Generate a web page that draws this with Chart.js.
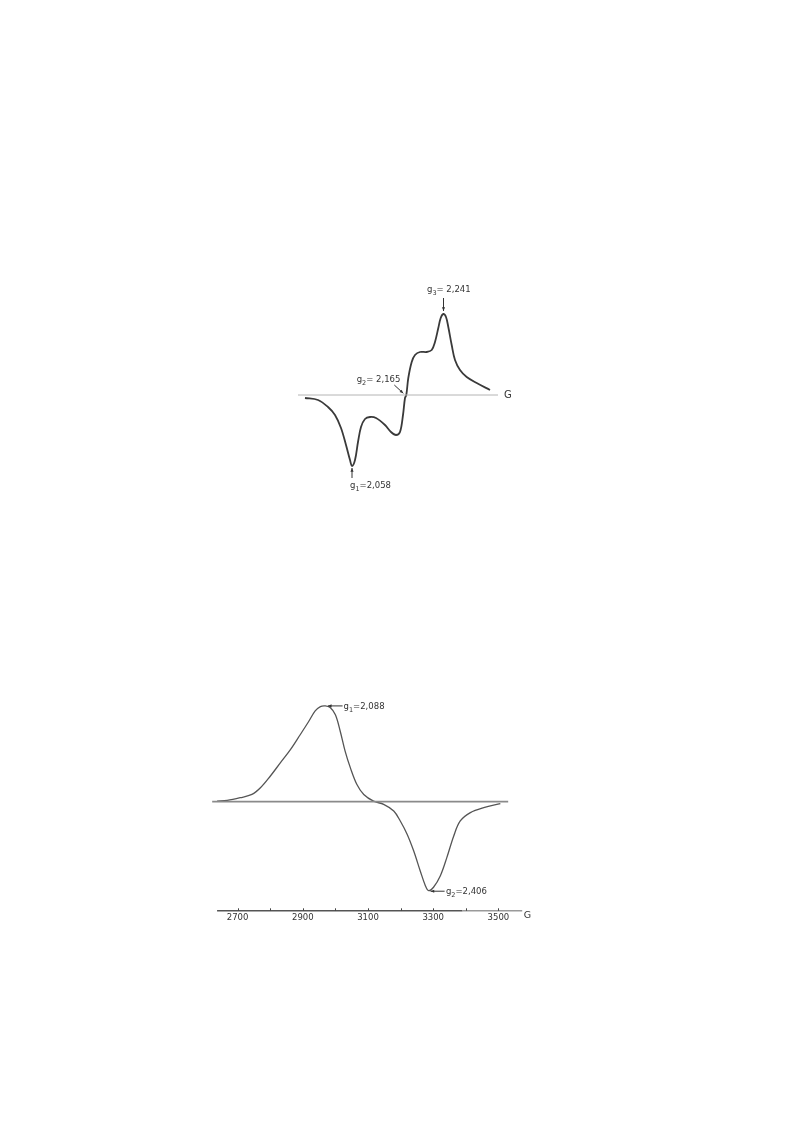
<!DOCTYPE html>
<html>
<head>
<meta charset="utf-8">
<script src="https://cdn.jsdelivr.net/npm/chart.js@4/dist/chart.umd.min.js"></script>
<style>
  html, body { margin:0; padding:0; background:#fff; }
  body { width:793px; height:1123px; position:relative; overflow:hidden; }
  canvas { position:absolute; }
  #c1 { left:290px; top:280px; }
  #c2 { left:195px; top:690px; }
</style>
</head>
<body>
<canvas id="c1" width="235" height="215"></canvas>
<canvas id="c2" width="350" height="240"></canvas>
<script>
// ---------- Spectrum 1 (field in arbitrary units, signal in arbitrary units) ----------
const topField  = [7, 20, 30, 37, 43, 48, 52, 54, 57, 60, 63, 67, 72, 78, 87, 93, 98, 102, 105, 107,
                   108.3, 110.3, 113.7, 117, 122, 128.7, 133.7, 137, 140.3, 142.7, 145.3, 148, 150.3, 153.7, 157, 162, 168.7, 178.7, 192];
const topSignal = [-3, -5, -12, -20, -33, -50, -65, -71, -65, -47, -32, -24, -22, -23, -30, -37, -40, -37, -20, -3,
                   0, 17, 33, 40, 43, 43, 45, 53, 67, 77, 81, 78, 68, 50, 35, 25, 18, 12, 5];
const topBaseline = [0, 200];
const topLabels = { g1: "2,058", g2: "2,165", g3: "2,241" };

// ---------- Spectrum 2 (field in G) ----------
const botField  = [2637, 2668, 2708, 2744, 2770, 2800, 2831, 2862, 2892, 2918, 2938, 2954, 2969, 2984, 3000, 3015, 3030, 3046, 3066, 3087,
                   3117, 3148, 3179, 3199, 3220, 3240, 3260, 3276, 3286, 3301, 3322, 3342, 3363, 3383, 3414, 3455, 3506];
const botSignal = [0.6, 1.3, 4, 7.3, 14, 25.6, 39, 52.3, 67.3, 80.6, 91.3, 95.6, 96.3, 94.6, 87.3, 70.6, 50.6, 34, 17.3, 7.3,
                   0.6, -2.7, -9.4, -19.4, -32.7, -49.4, -69.4, -84.4, -89.4, -86, -74.4, -56, -34.4, -19.4, -11, -6, -2];
const botBaseline = [2622, 3530];
const botTickLabels = [2700, 2900, 3100, 3300, 3500];
const botLabels = { g1: "2,088", g2: "2,406" };

const FONT = '"DejaVu Sans", Verdana, sans-serif';

function pts(xs, ys) { return xs.map((x, i) => ({ x: x, y: ys[i] })); }

function gLabel(ctx, x, yBase, sub, rest) {
  ctx.save();
  ctx.fillStyle = '#333';
  ctx.textBaseline = 'alphabetic';
  ctx.textAlign = 'left';
  ctx.font = '8.5px ' + FONT;
  ctx.fillText('g', x, yBase);
  let w = ctx.measureText('g').width;
  ctx.font = '6.5px ' + FONT;
  ctx.fillText(sub, x + w, yBase + 3);
  w += ctx.measureText(sub).width;
  ctx.font = '8.5px ' + FONT;
  ctx.fillText(rest, x + w, yBase);
  ctx.restore();
}

function arrow(ctx, x1, y1, x2, y2, head) {
  ctx.save();
  ctx.strokeStyle = '#333';
  ctx.fillStyle = '#333';
  ctx.lineWidth = 1;
  ctx.beginPath(); ctx.moveTo(x1, y1); ctx.lineTo(x2, y2); ctx.stroke();
  const a = Math.atan2(y2 - y1, x2 - x1), h = head || 4;
  ctx.beginPath();
  ctx.moveTo(x2, y2);
  ctx.lineTo(x2 - h * Math.cos(a - 0.4), y2 - h * Math.sin(a - 0.4));
  ctx.lineTo(x2 - h * Math.cos(a + 0.4), y2 - h * Math.sin(a + 0.4));
  ctx.closePath(); ctx.fill();
  ctx.restore();
}

const topNotes = {
  id: 'topNotes',
  afterDatasetsDraw(chart) {
    const { ctx, scales: { x, y } } = chart;
    const X = v => x.getPixelForValue(v), Y = v => y.getPixelForValue(v);
    ctx.save();
    ctx.font = '10px ' + FONT; ctx.fillStyle = '#333';
    ctx.textAlign = 'left'; ctx.textBaseline = 'middle';
    ctx.fillText('G', X(206), Y(0));
    ctx.restore();
    gLabel(ctx, X(129), Y(103), '3', '= ' + topLabels.g3);
    arrow(ctx, X(145.5), Y(97), X(145.5), Y(84), 4);
    gLabel(ctx, X(58.7), Y(13.5), '2', '= ' + topLabels.g2);
    arrow(ctx, X(96.3), Y(10), X(105.3), Y(1.7), 4);
    gLabel(ctx, X(52), Y(-93), '1', '=' + topLabels.g1);
    arrow(ctx, X(54), Y(-83), X(54), Y(-73), 4);
  }
};

const botNotes = {
  id: 'botNotes',
  afterDatasetsDraw(chart) {
    const { ctx, scales: { x, y } } = chart;
    const X = v => x.getPixelForValue(v), Y = v => y.getPixelForValue(v);
    const yAxis = chart.chartArea.bottom;
    ctx.save();
    ctx.lineWidth = 1.6;
    ctx.strokeStyle = '#555';
    ctx.beginPath(); ctx.moveTo(X(2637), yAxis); ctx.lineTo(X(3390), yAxis); ctx.stroke();
    ctx.strokeStyle = '#9a9a9a';
    ctx.beginPath(); ctx.moveTo(X(3390), yAxis); ctx.lineTo(X(3573), yAxis); ctx.stroke();
    ctx.strokeStyle = '#444'; ctx.lineWidth = 1;
    for (const t of x.ticks) {
      if (t.value < 2700 || t.value > 3500) continue;
      const px = Math.round(X(t.value)) + 0.5;
      ctx.beginPath(); ctx.moveTo(px, yAxis - 2.5); ctx.lineTo(px, yAxis); ctx.stroke();
    }
    ctx.font = '9.5px ' + FONT; ctx.fillStyle = '#333';
    ctx.textAlign = 'left'; ctx.textBaseline = 'middle';
    ctx.fillText('G', X(3578), yAxis + 4.5);
    ctx.restore();
    arrow(ctx, X(3022), Y(96.3), X(2977), Y(96.3), 4);
    gLabel(ctx, X(3025), Y(93.3), '1', '=' + botLabels.g1);
    arrow(ctx, X(3335), Y(-90), X(3292), Y(-90), 4);
    gLabel(ctx, X(3339), Y(-93), '2', '=' + botLabels.g2);
  }
};

new Chart(document.getElementById('c1'), {
  type: 'line',
  data: {
    datasets: [
      { data: pts(topBaseline, [0, 0]), borderColor: '#b4b4b4', borderWidth: 1, pointRadius: 0, tension: 0 },
      { data: pts(topField, topSignal), borderColor: '#3a3a3a', borderWidth: 1.8, pointRadius: 0, tension: 0.35 }
    ]
  },
  options: {
    responsive: false, animation: false, devicePixelRatio: 1,
    layout: { padding: { left: 8, right: 27, top: 0, bottom: 0 } },
    plugins: { legend: { display: false }, tooltip: { enabled: false } },
    scales: {
      x: { type: 'linear', min: 0, max: 200, display: false },
      y: { type: 'linear', min: -100, max: 115, display: false }
    }
  },
  plugins: [topNotes]
});

new Chart(document.getElementById('c2'), {
  type: 'line',
  data: {
    datasets: [
      { data: pts(botBaseline, [0, 0]), borderColor: '#8a8a8a', borderWidth: 1.8, pointRadius: 0, tension: 0, clip: false },
      { data: pts(botField, botSignal), borderColor: '#555', borderWidth: 1.3, pointRadius: 0, tension: 0.35 }
    ]
  },
  options: {
    responsive: false, animation: false, devicePixelRatio: 1,
    layout: { padding: { left: 10, right: 14, top: 0, bottom: 5 } },
    plugins: { legend: { display: false }, tooltip: { enabled: false } },
    scales: {
      x: {
        type: 'linear', min: 2600, max: 3600,
        grid: { display: false, drawTicks: false },
        border: { display: false },
        ticks: {
          stepSize: 100, autoSkip: false, maxRotation: 0, padding: 2,
          color: '#333', font: { family: FONT, size: 8.5 },
          callback: v => botTickLabels.includes(v) ? String(v) : ''
        }
      },
      y: { type: 'linear', min: -109.7, max: 112.3, display: false }
    }
  },
  plugins: [botNotes]
});
</script>
</body>
</html>
